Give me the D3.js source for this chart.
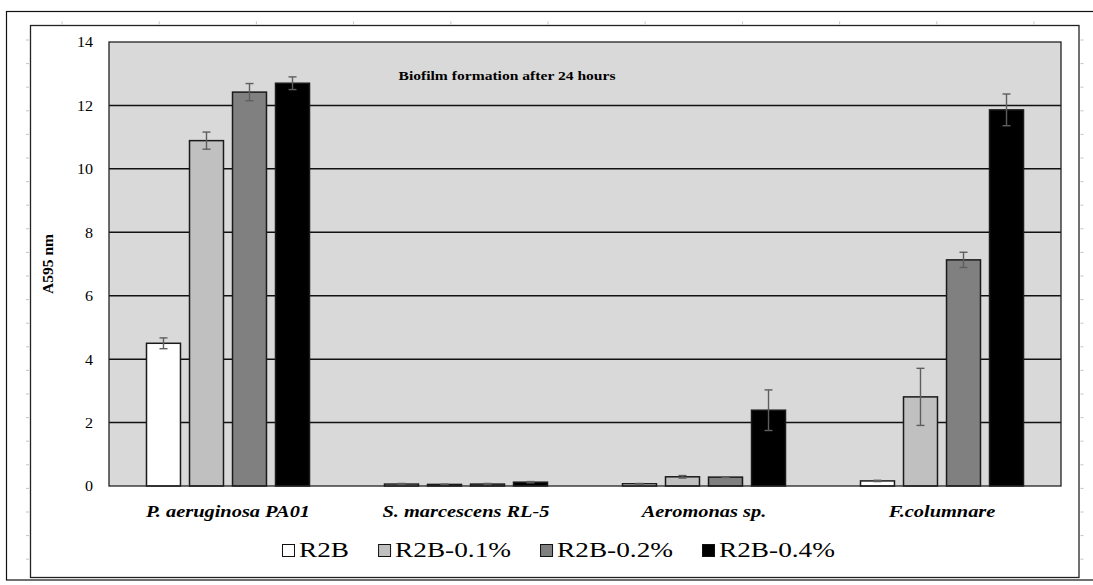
<!DOCTYPE html>
<html>
<head>
<meta charset="utf-8">
<script src="https://cdn.jsdelivr.net/npm/d3@7"></script>
<style>
  html, body { margin: 0; padding: 0; background: #fff; }
  svg { display: block; }
</style>
</head>
<body>
<svg id="chart" width="1093" height="585"></svg>
<script>
// Biofilm formation (A595) after 24 h for four strains in R2B media
const categories = ["P. aeruginosa PA01", "S. marcescens RL-5", "Aeromonas sp.", "F.columnare"];
const seriesNames = ["R2B", "R2B-0.1%", "R2B-0.2%", "R2B-0.4%"];

const r2b      = [4.50, 0.06, 0.07, 0.16];
const r2b01    = [10.89, 0.05, 0.29, 2.81];
const r2b02    = [12.42, 0.06, 0.28, 7.13];
const r2b04    = [12.70, 0.12, 2.39, 11.86];

const r2bErr   = [0.17, 0.02, 0.01, 0.02];
const r2b01Err = [0.27, 0.01, 0.04, 0.90];
const r2b02Err = [0.27, 0.02, 0.01, 0.24];
const r2b04Err = [0.20, 0.02, 0.64, 0.50];

const yTicks = [0, 2, 4, 6, 8, 10, 12, 14];
const chartTitle = "Biofilm formation after 24 hours";
const yTitle = "A595 nm";

const FONT = "Liberation Serif";
const seriesValues = [r2b, r2b01, r2b02, r2b04];
const seriesErrors = [r2bErr, r2b01Err, r2b02Err, r2b04Err];
const seriesFill = ["#ffffff", "#c0c0c0", "#808080", "#000000"];

const rows = [];
categories.forEach((c, ci) => {
  seriesNames.forEach((s, si) => {
    rows.push({ cat: c, ser: s, si, value: seriesValues[si][ci], err: seriesErrors[si][ci] });
  });
});

const svg = d3.select("#chart");

// outer and inner frames
svg.append("rect").attr("x", 6.5).attr("y", 11.5).attr("width", 1100).attr("height", 568.5)
  .attr("fill", "none").attr("stroke", "#111").attr("stroke-width", 1.2);
svg.append("rect").attr("x", 30.5).attr("y", 25.5).attr("width", 1048.5).attr("height", 552)
  .attr("fill", "#fff").attr("stroke", "#222").attr("stroke-width", 1.3);

// faint ruler ticks around the inner frame
const frameTicks = svg.append("g").attr("stroke", "#c4c4c4").attr("stroke-width", 1);
d3.range(62, 1079, 97.2).forEach(x => {
  frameTicks.append("line").attr("x1", x).attr("x2", x).attr("y1", 21.5).attr("y2", 24.5);
});
d3.range(40, 578, 23.6).forEach(y => {
  frameTicks.append("line").attr("x1", 26).attr("x2", 29).attr("y1", y).attr("y2", y);
  frameTicks.append("line").attr("x1", 1080.5).attr("x2", 1083.5).attr("y1", y).attr("y2", y);
});

const plot = { left: 109, right: 1061, top: 42, bottom: 486 };

const y = d3.scaleLinear().domain([0, 14]).range([plot.bottom, plot.top]);
const x0 = d3.scaleBand().domain(categories).range([plot.left, plot.right]).padding(0);
const groupW = 163;
const x1 = d3.scaleBand().domain(seriesNames)
  .range([(x0.bandwidth() - groupW) / 2, (x0.bandwidth() + groupW) / 2])
  .paddingInner(0.21).paddingOuter(0);

// plot background
svg.append("rect")
  .attr("x", plot.left).attr("y", plot.top)
  .attr("width", plot.right - plot.left).attr("height", plot.bottom - plot.top)
  .attr("fill", "#d9d9d9");

// horizontal gridlines
svg.append("g").selectAll("line").data(yTicks.filter(t => t > 0 && t < 14)).join("line")
  .attr("x1", plot.left).attr("x2", plot.right)
  .attr("y1", d => y(d)).attr("y2", d => y(d))
  .attr("stroke", "#111").attr("stroke-width", 1.5);

// bars
svg.append("g").selectAll("rect").data(rows).join("rect")
  .attr("x", d => x0(d.cat) + x1(d.ser))
  .attr("width", x1.bandwidth())
  .attr("y", d => y(d.value))
  .attr("height", d => y(0) - y(d.value))
  .attr("fill", d => seriesFill[d.si])
  .attr("stroke", "#1a1a1a").attr("stroke-width", 1.5);

// error bars
const eb = svg.append("g").attr("stroke", "#5e5e5e").attr("stroke-width", 1.4);
rows.forEach(d => {
  const cx = x0(d.cat) + x1(d.ser) + x1.bandwidth() / 2;
  const y1 = y(d.value + d.err), y2 = y(d.value - d.err);
  eb.append("line").attr("x1", cx).attr("x2", cx).attr("y1", y1).attr("y2", y2);
  eb.append("line").attr("x1", cx - 4).attr("x2", cx + 4).attr("y1", y1).attr("y2", y1);
  eb.append("line").attr("x1", cx - 4).attr("x2", cx + 4).attr("y1", y2).attr("y2", y2);
});

// plot border
svg.append("rect")
  .attr("x", plot.left).attr("y", plot.top)
  .attr("width", plot.right - plot.left).attr("height", plot.bottom - plot.top)
  .attr("fill", "none").attr("stroke", "#222").attr("stroke-width", 1.3);

// text placed inside a group that stretches it horizontally
function label(parent, x, yPos, str, opts) {
  const g = parent.append("g").attr("transform",
    `translate(${x},${yPos}) scale(${opts.sx},1)` + (opts.rotate ? ` rotate(${opts.rotate})` : ""));
  return g.append("text")
    .attr("text-anchor", opts.anchor || "middle")
    .attr("dy", opts.dy || null)
    .attr("font-family", FONT)
    .attr("font-size", opts.size)
    .attr("font-weight", opts.weight || "normal")
    .attr("font-style", opts.style || "normal")
    .attr("fill", "#000")
    .text(str);
}

// y axis (labels only)
const yAxis = svg.append("g").attr("transform", `translate(${plot.left},0)`)
  .call(d3.axisLeft(y).tickValues(yTicks).tickSize(0).tickPadding(0).tickFormat(d3.format("d")));
yAxis.select(".domain").remove();
yAxis.selectAll(".tick text").remove();
yAxis.selectAll(".tick").each(function(d) {
  label(d3.select(this), -16, 0, d, { size: 14, sx: 1.15, anchor: "end", dy: "0.35em" });
});

// category labels
const xAxis = svg.append("g").attr("transform", `translate(0,${plot.bottom})`)
  .call(d3.axisBottom(x0).tickSize(0).tickPadding(0));
xAxis.select(".domain").remove();
xAxis.selectAll(".tick text").remove();
xAxis.selectAll(".tick").each(function(d) {
  label(d3.select(this), 0, 31, d, { size: 17, sx: 1.2, weight: "bold", style: "italic" });
});

// titles
label(svg, 507, 80, chartTitle, { size: 13, weight: "bold", sx: 1.2 });
label(svg, 53, 264, yTitle, { size: 15.5, weight: "bold", sx: 1, rotate: -90 });

// legend
const legend = svg.append("g").attr("transform", "translate(282,557)");
let lx = 0;
seriesNames.forEach((s, i) => {
  legend.append("rect").attr("x", lx + 0.5).attr("y", -12.5).attr("width", 12).attr("height", 12)
    .attr("fill", seriesFill[i]).attr("stroke", "#111").attr("stroke-width", 1);
  const t = label(legend, lx + 17, 0, s, { size: 21, sx: 1.3, anchor: "start" });
  const w = t.node().getComputedTextLength() * 1.3;
  lx += 17 + w + 29;
});
</script>
</body>
</html>
